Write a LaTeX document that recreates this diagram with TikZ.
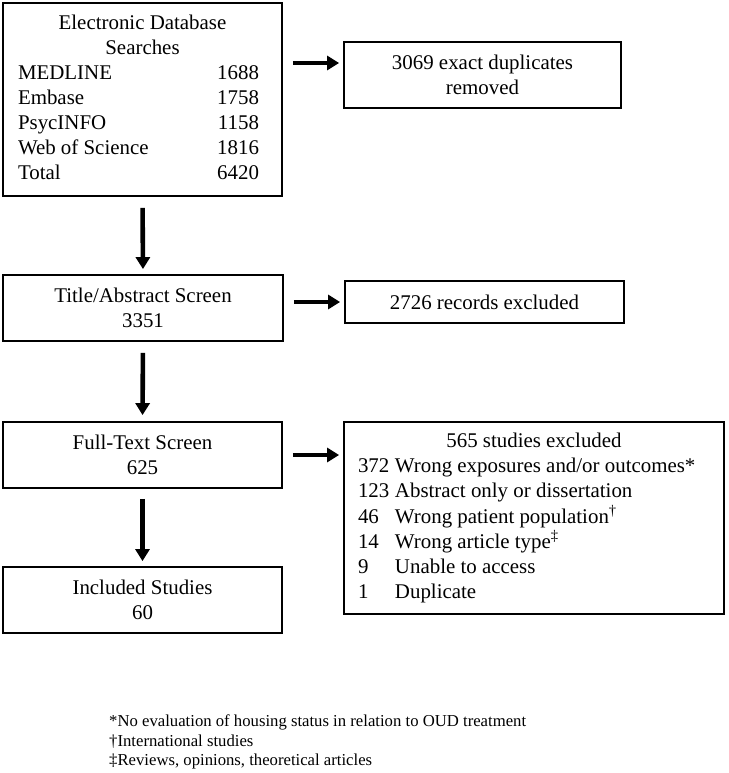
\documentclass[tikz,border=0pt]{standalone}
\usepackage{fontspec}
\setmainfont{Liberation Serif}
\usetikzlibrary{arrows.meta}
\begin{document}
\begin{tikzpicture}[x=1pt,y=-1pt,
  box/.style={draw=black, line width=1.8pt, rectangle, inner sep=0pt, align=center,
    font=\fontsize{20.9}{25}\selectfont},
  arr/.style={line width=4.6pt, -{Triangle[length=12pt,width=14pt]}},
  foot/.style={inner sep=0pt, align=left, anchor=north west, font=\fontsize{16.7}{19.5}\selectfont}]
\useasboundingbox[fill=white] (0,0) rectangle (728,773);

\node[box, minimum width=279pt, minimum height=193pt] (b1) at (142.5,99.5)
 {\begin{tabular*}{241pt}{@{}l@{\extracolsep{\fill}}r@{}}
  \multicolumn{2}{@{}c@{}}{\hspace*{8pt}Electronic Database}\\
  \multicolumn{2}{@{}c@{}}{\hspace*{8pt}Searches}\\
  MEDLINE & 1688\\
  Embase & 1758\\
  PsycINFO & 1158\\
  Web of Science & 1816\\
  Total & 6420
 \end{tabular*}\hspace*{8pt}};

\node[box, minimum width=277pt, minimum height=66pt] (dup) at (482.5,75)
 {3069 exact duplicates\\removed};

\node[box, minimum width=280pt, minimum height=66pt] (tb) at (143,308)
 {Title/Abstract Screen\\3351};

\node[box, minimum width=279pt, minimum height=42pt] (ex2) at (484.5,302)
 {2726 records excluded};

\node[box, minimum width=279pt, minimum height=66pt] (ft) at (142.5,455)
 {Full-Text Screen\\625};

\node[box, minimum width=380pt, minimum height=192pt] (ex3) at (534,518)
 {\begin{tabular}{@{}p{37pt}@{}p{315pt}@{}}
  \multicolumn{2}{@{}c@{}}{565 studies excluded}\\
  372 & Wrong exposures and/or outcomes*\\
  123 & Abstract only or dissertation\\
  46 & Wrong patient population\textsuperscript{†}\\
  14 & Wrong article type\textsuperscript{‡}\\
  9 & Unable to access\\
  1 & Duplicate
 \end{tabular}};

\node[box, minimum width=279pt, minimum height=66pt] (inc) at (142.5,600)
 {Included Studies\\60};

\node[foot] (fn) at (109,715)
 {*No evaluation of housing status in relation to OUD treatment\\
  †International studies\\
  ‡Reviews, opinions, theoretical articles};

\coordinate (dupin) at ([yshift=12pt]dup.west);
\draw[arr, shorten <=10pt, shorten >=4pt] (b1.east |- dupin) -- (dupin);
\draw[arr, shorten <=10pt, shorten >=4pt] (tb.east |- ex2.west) -- (ex2.west);
\draw[arr, shorten <=10pt, shorten >=4pt] (ft.east) -- (ex3.west |- ft.east);
\draw[arr, shorten <=11pt, shorten >=5pt] (b1.south) -- (tb.north);
\draw[arr, shorten <=11pt, shorten >=6pt] (tb.south) -- (ft.north);
\draw[arr, shorten <=10pt, shorten >=5pt] (ft.south) -- (inc.north);
\end{tikzpicture}
\end{document}
